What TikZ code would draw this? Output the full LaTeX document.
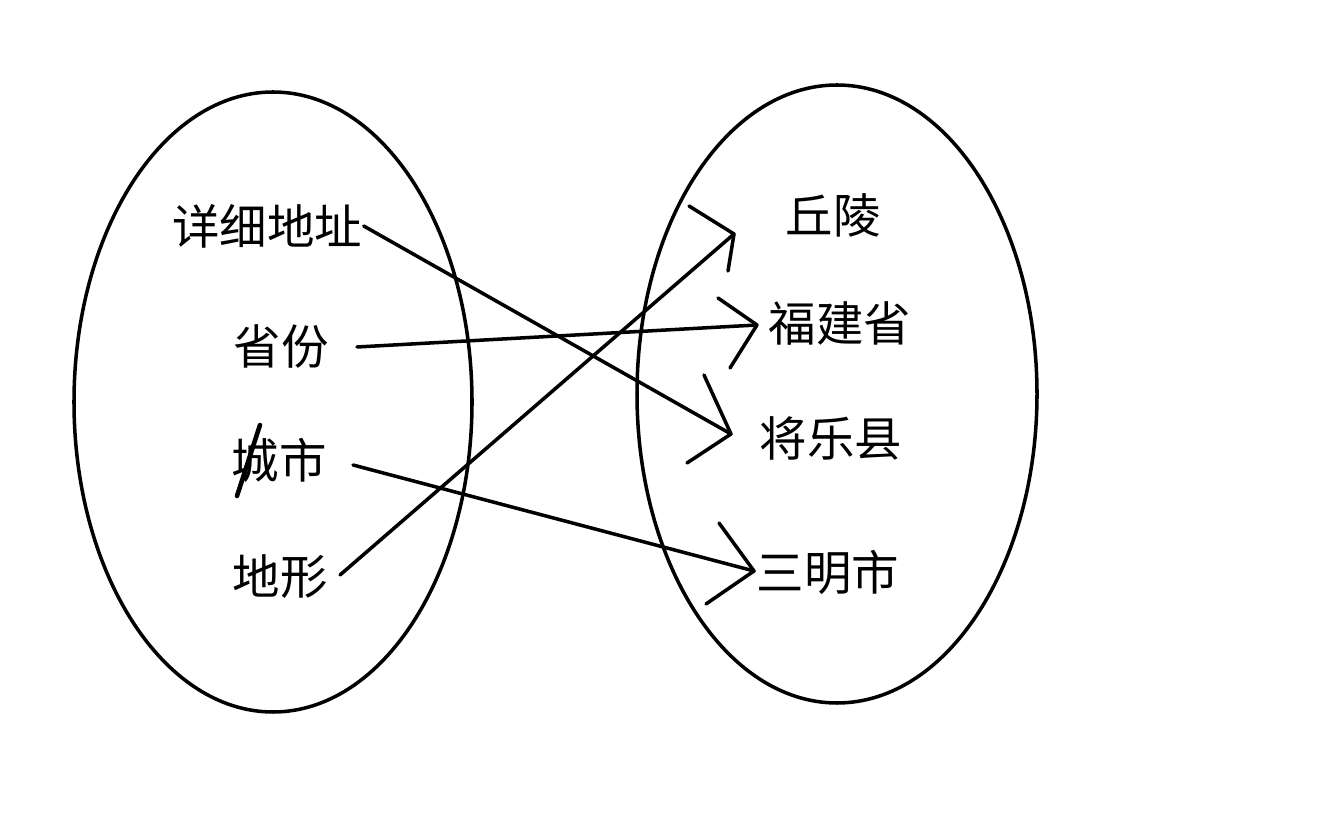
\documentclass[tikz,border=0pt]{standalone}
\usepackage{fontspec}
\setmainfont{Noto Sans CJK SC}
\begin{document}
\begin{tikzpicture}[x=0.01cm, y=-0.01cm, line width=1pt, line cap=round, line join=round,
    lbl/.style={inner sep=0pt, font=\fontsize{13.5pt}{16pt}\selectfont}]
    \useasboundingbox (0,0) rectangle (1318,822);

    % the two sets
    \draw (273,402) ellipse [x radius=199, y radius=310];
    \draw (837,394) ellipse [x radius=200, y radius=309];

    % left labels
    \node[lbl] (addr) at (267,226) {详细地址};
    \node[lbl] (prov) at (281,347) {省份};
    \node[lbl] (city) at (279,460) {城市};
    \node[lbl] (terr) at (280,577) {地形};

    % right labels
    \node[lbl] (hill)   at (833,215) {丘陵};
    \node[lbl] (fujian) at (840,323) {福建省};
    \node[lbl] (jiangle) at (831,438) {将乐县};
    \node[lbl] (sanming) at (828,572) {三明市};

    % ends of the strokes
    \coordinate (prov-out) at (357,347);
    \coordinate (city-out) at (353,465);
    \coordinate (terr-out) at (340,575);
    \coordinate (hill-in)    at (734,234);
    \coordinate (fujian-in)  at (757,325);
    \coordinate (jiangle-in) at (731,434);
    \coordinate (sanming-in) at (754,571);

    % mappings
    \draw (addr.east) -- (jiangle-in);
    \draw (prov-out) -- (fujian-in);
    \draw (city-out) -- (sanming-in);
    \draw (terr-out) -- (hill-in);

    % hand drawn heads
    \draw (689,206) -- (hill-in) -- (728,271);
    \draw (718,298) -- (fujian-in) -- (730,368);
    \draw (704,375) -- (jiangle-in) -- (687,463);
    \draw (719,523) -- (sanming-in) -- (706,604);

    % stroke through the label
    \draw[line width=1.3pt] (260,425) -- (237,496);
\end{tikzpicture}
\end{document}
